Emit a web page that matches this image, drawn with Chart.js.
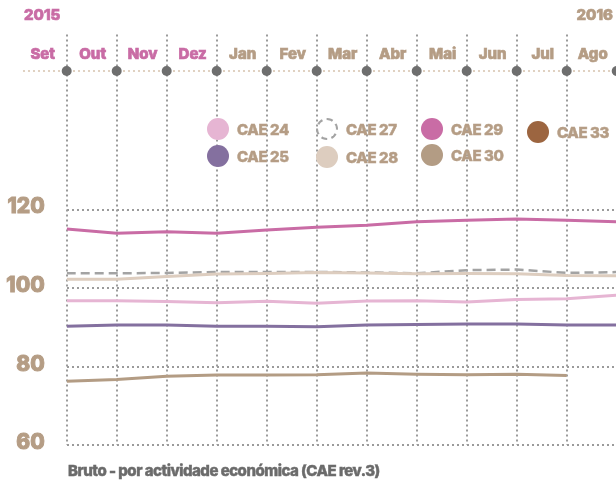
<!DOCTYPE html>
<html>
<head>
<meta charset="utf-8">
<script src="https://cdn.jsdelivr.net/npm/chart.js@4/dist/chart.umd.min.js"></script>
<style>
  html, body { margin: 0; padding: 0; background: #fff; }
  #wrap { position: relative; width: 616px; height: 481px; overflow: hidden; font-family: Inter, "Noto Sans", sans-serif; }
  #c { position: absolute; left: 0; top: 0; }
  .leg { position: absolute; display: flex; align-items: center; font-weight: 800; font-size: 15px; color: #b59d85; letter-spacing: -0.4px; white-space: nowrap; -webkit-text-stroke: 0.45px #b59d85; }
  .sw { width: 22px; height: 22px; border-radius: 50%; margin-right: 8px; box-sizing: border-box; flex: none; }
  #title { position: absolute; left: 68px; top: 461px; font-weight: 800; font-size: 15px; color: #6b6b6b; letter-spacing: -0.5px; white-space: nowrap; -webkit-text-stroke: 0.45px #6b6b6b; }
</style>
</head>
<body>
<div id="wrap">
  <canvas id="c" width="616" height="481"></canvas>
  <div id="legend"></div>
  <div id="title">Bruto - por actividade económica (CAE rev.3)</div>
</div>
<script>
// ---- data ----
const months = ['Set','Out','Nov','Dez','Jan','Fev','Mar','Abr','Mai','Jun','Jul','Ago'];
const monthYears = ['2015','2015','2015','2015','2016','2016','2016','2016','2016','2016','2016','2016'];
const yearLabels = ['2015','2016'];
const yTicks = [60, 80, 100, 120];
const seriesNames = ['CAE 24','CAE 25','CAE 27','CAE 28','CAE 29','CAE 30','CAE 33'];
const cae24 = [96.8, 96.8, 96.6, 96.3, 96.65, 96.15, 96.75, 96.8, 96.5, 97.15, 97.3, 98.25];
const cae25 = [90.3, 90.65, 90.65, 90.3, 90.3, 90.2, 90.65, 90.75, 90.9, 90.9, 90.65, 90.65];
const cae27 = [103.8, 103.8, 103.9, 104.1, 104.15, 104.15, 104.0, 103.8, 104.6, 104.75, 103.9, 104.1];
const cae28 = [102.25, 102.3, 103.0, 103.6, 103.75, 104.0, 103.9, 103.65, 103.75, 103.65, 103.25, 103.15];
const cae29 = [115.1, 114.0, 114.4, 114.0, 114.8, 115.5, 116.0, 116.9, 117.3, 117.65, 117.3, 116.9];
const cae30 = [76.3, 76.75, 77.6, 77.9, 77.9, 77.95, 78.4, 78.1, 77.95, 78.1, 77.75, null];
const cae33 = [null, null, null, null, null, null, null, null, null, null, null, null];

// ---- styles ----
const PINK = '#c96ca5', TAN = '#b59d85';
const FONT = 'Inter, "Noto Sans", sans-serif';
const styles = {
  'CAE 24': { color: '#e6b5d3' },
  'CAE 25': { color: '#84709f' },
  'CAE 27': { color: '#a3a3a3', dash: [9, 5], hollow: true },
  'CAE 28': { color: '#ddcdbf' },
  'CAE 29': { color: PINK },
  'CAE 30': { color: '#b39c84' },
  'CAE 33': { color: '#9c6540' }
};
const seriesValues = { 'CAE 24': cae24, 'CAE 25': cae25, 'CAE 27': cae27, 'CAE 28': cae28, 'CAE 29': cae29, 'CAE 30': cae30, 'CAE 33': cae33 };
const drawOrder = ['CAE 30','CAE 25','CAE 24','CAE 28','CAE 27','CAE 29','CAE 33'];

const datasets = drawOrder.map(name => ({
  label: name,
  data: seriesValues[name].map((v, i) => ({ x: i, y: v })),
  borderColor: styles[name].color,
  borderWidth: name === 'CAE 27' ? 2.5 : 3,
  borderDash: styles[name].dash || [],
  pointRadius: 0,
  tension: 0,
  fill: false,
  spanGaps: false
}));

// ---- legend (HTML) ----
const legendPos = {
  'CAE 24': [207, 118], 'CAE 25': [207, 145],
  'CAE 27': [316, 118], 'CAE 28': [316, 146],
  'CAE 29': [421, 118], 'CAE 30': [421, 144],
  'CAE 33': [527, 121]
};
const legEl = document.getElementById('legend');
seriesNames.forEach(name => {
  const d = document.createElement('div');
  d.className = 'leg';
  d.style.left = legendPos[name][0] + 'px';
  d.style.top = legendPos[name][1] + 'px';
  const sw = document.createElement('span');
  sw.className = 'sw';
  if (styles[name].hollow) {
    sw.style.border = '2px dashed #a3a3a3';
  } else {
    sw.style.background = styles[name].color;
  }
  d.appendChild(sw);
  d.appendChild(document.createTextNode(name));
  legEl.appendChild(d);
});

function boldText(ctx, txt, x, y, color) {
  ctx.fillStyle = color;
  ctx.strokeStyle = color;
  ctx.lineWidth = 0.7;
  ctx.fillText(txt, x, y);
  ctx.strokeText(txt, x, y);
}

// ---- top month axis plugin ----
const topAxis = {
  id: 'topAxis',
  afterDraw(chart) {
    const ctx = chart.ctx;
    const xs = chart.scales.x;
    const yLine = 71;
    ctx.save();
    ctx.fillStyle = '#d9c7b3';
    for (let x = 24; x < 616; x += 5) {
      ctx.beginPath();
      ctx.arc(x, yLine, 1.1, 0, Math.PI * 2);
      ctx.fill();
    }
    ctx.fillStyle = '#6e6e6e';
    for (let i = 0; i <= 11; i++) {
      const px = xs.getPixelForValue(i);
      ctx.beginPath();
      ctx.arc(px, yLine, 5, 0, Math.PI * 2);
      ctx.fill();
    }
    ctx.font = '800 15px ' + FONT;
    ctx.textAlign = 'center';
    ctx.textBaseline = 'middle';
    months.forEach((m, i) => {
      boldText(ctx, m, xs.getPixelForValue(i - 0.5) + 1, 54, monthYears[i] === '2015' ? PINK : TAN);
    });
    ctx.textAlign = 'left';
    boldText(ctx, yearLabels[0], 24, 15, PINK);
    ctx.textAlign = 'right';
    boldText(ctx, yearLabels[1], 613, 15, TAN);
    ctx.restore();
  }
};

new Chart(document.getElementById('c'), {
  type: 'line',
  data: { datasets },
  plugins: [topAxis],
  options: {
    responsive: false,
    animation: false,
    events: [],
    layout: { padding: { top: 27, bottom: 35.7, left: 0, right: 0 } },
    plugins: { legend: { display: false }, tooltip: { enabled: false }, title: { display: false } },
    scales: {
      x: {
        type: 'linear',
        min: 0,
        max: (616 - 66.7) / 50,
        afterBuildTicks: s => { s.ticks = months.map((m, i) => ({ value: i })); },
        ticks: { display: false },
        grid: { color: '#9b9b9b', lineWidth: 2, drawTicks: false },
        border: { display: false, dash: [2, 3] }
      },
      y: {
        type: 'linear',
        min: 60,
        max: 60 + (445.3 - 27) / 4,
        afterBuildTicks: s => { s.ticks = yTicks.map(v => ({ value: v })); },
        afterFit: s => { s.width = 66.7; },
        ticks: {
          padding: 22,
          labelOffset: -2.5,
          color: TAN,
          font: { family: FONT, size: 21, weight: '800' },
          textStrokeColor: TAN,
          textStrokeWidth: 1
        },
        grid: { color: '#9b9b9b', lineWidth: 2, drawTicks: false },
        border: { display: false, dash: [2, 3] }
      }
    }
  }
});
</script>
</body>
</html>
